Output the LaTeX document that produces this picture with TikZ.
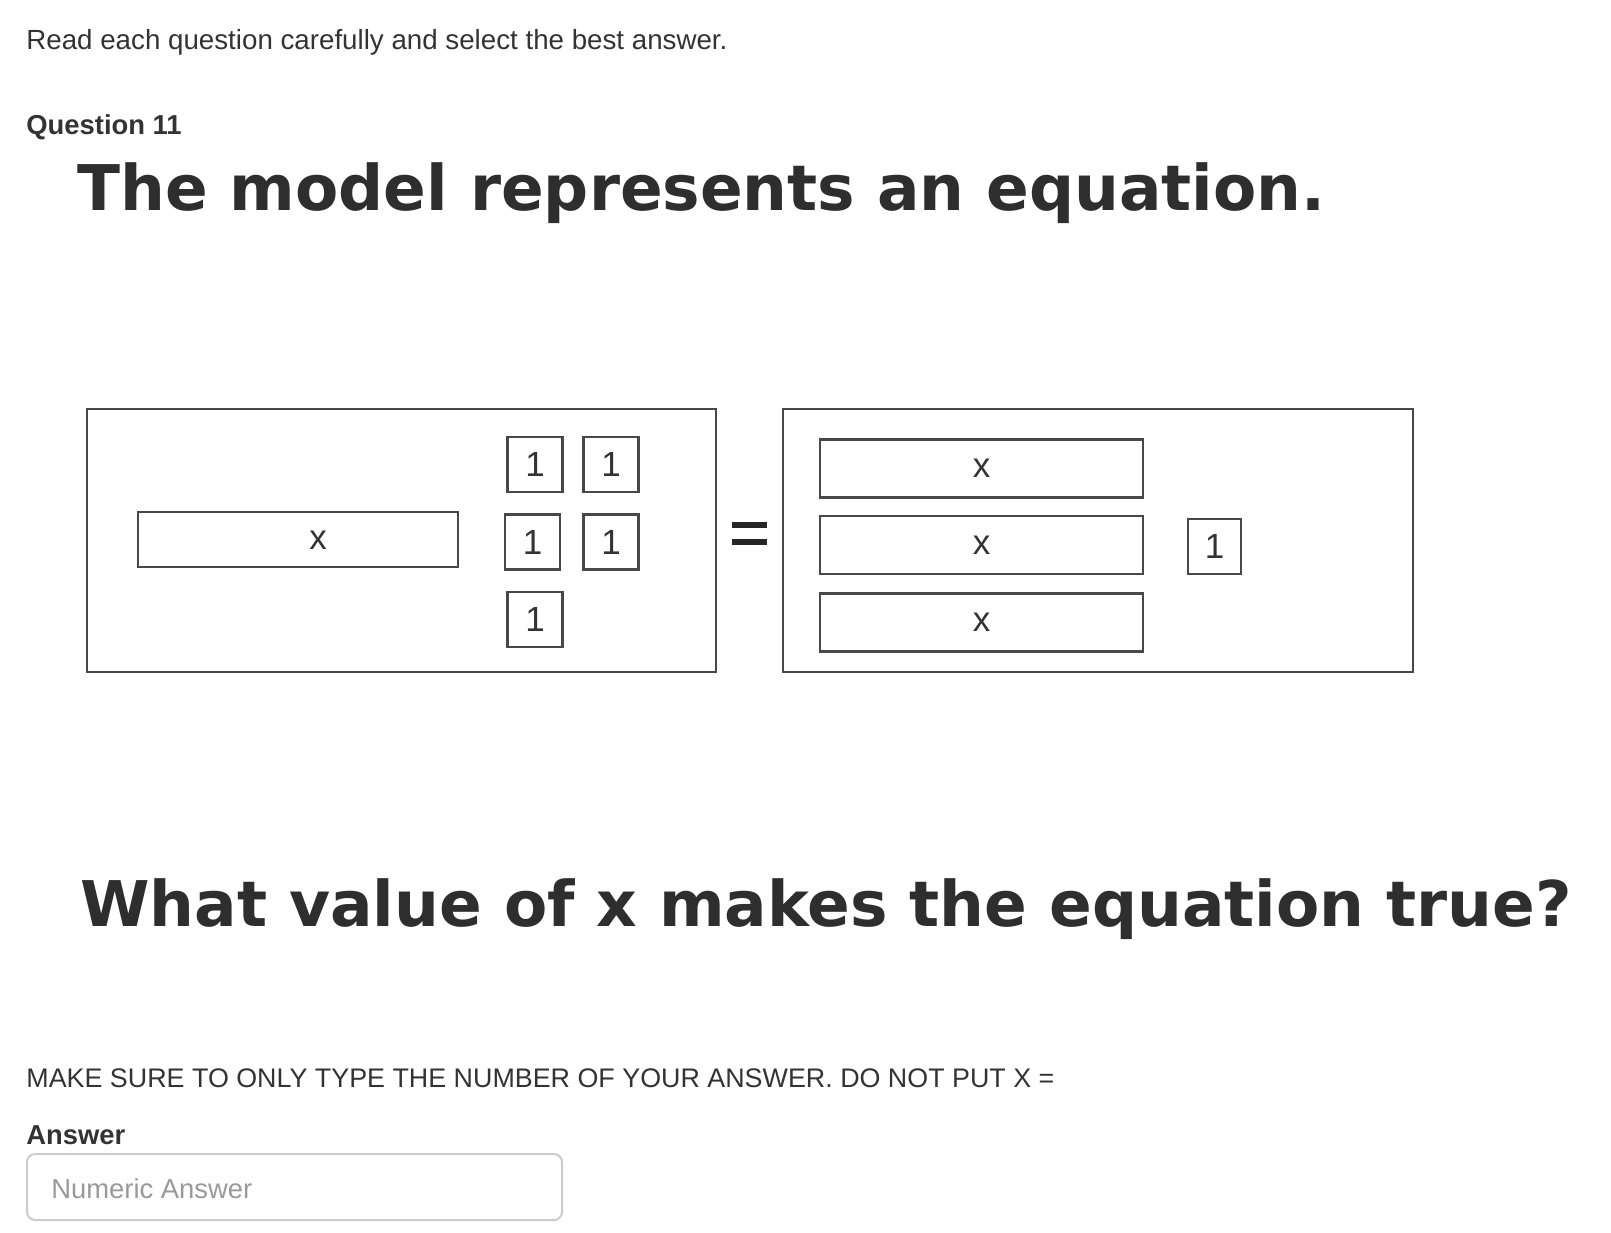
\documentclass[tikz,border=0pt]{standalone}
\usepackage{fontspec}
\setmainfont{Liberation Sans}
\newfontfamily\headfont{DejaVu Sans}

\definecolor{ink}{HTML}{333333}
\definecolor{head}{HTML}{2E2E2E}
\definecolor{frame}{HTML}{484848}
\definecolor{fieldline}{HTML}{CCCCCC}
\definecolor{hint}{HTML}{999999}

\begin{document}
\begin{tikzpicture}[x=0.5pt,y=-0.5pt,
  txt/.style={anchor=base west,inner sep=0pt,text=ink,font=\fontsize{13.7}{16}\selectfont},
  txtb/.style={anchor=base west,inner sep=0pt,text=ink,font=\bfseries\fontsize{13.7}{16}\selectfont},
  big/.style={anchor=base west,inner sep=0pt,text=head,font=\headfont\bfseries\fontsize{31.5}{36}\selectfont},
  panel/.style={draw=frame,line width=1.3pt},
  xbar/.style={draw=frame,line width=1.3pt,minimum width=161.5pt,minimum height=29pt,inner sep=0pt,
    text=ink,font=\fontsize{17.5}{20}\selectfont},
  unit/.style={draw=frame,line width=1.3pt,minimum width=27.5pt,minimum height=27.5pt,inner sep=0pt,
    text=ink,font=\fontsize{17.5}{20}\selectfont}]
\useasboundingbox (0,0) rectangle (1611,1232);

% header
\node[txt,font=\fontsize{13.86}{16}\selectfont] (intro) at (26,49.5) {Read each question carefully and select the best answer.};
\node[txtb] (qnum)  at (26,134.6) {Question 11};
\node[big]  (title) at (77,210)   {The model represents an equation.};

% left side of the model
\draw[panel] (87,409) rectangle (716,672);
\node[xbar,minimum width=160pt,minimum height=27.5pt] (lx) at (298,539.5) {};
\node[inner sep=0pt,text=ink,font=\fontsize{17.5}{20}\selectfont] (lxl) at (318,540) {x};
\foreach \n/\x/\y in {a/535/464.5, b/611/464.5, c/532.5/542, d/611/542, e/535/619.5}
  \node[unit] (u\n) at (\x,\y) {1};

% equals sign
\draw[line width=3.4pt,black!85] (732,525) -- (767,525) (732,542) -- (767,542);

% right side of the model
\draw[panel] (783,409) rectangle (1413,672);
\foreach \n/\y in {a/468.5, b/545, c/622.5}
  \node[xbar] (rx\n) at (981.5,\y) {x};
\node[unit,minimum width=26.5pt] (ru) at (1214.5,546.5) {1};

% question and answer field
\node[big]  (ask)    at (80,926)    {What value of x makes the equation true?};
\node[txt,font=\fontsize{13.43}{16}\selectfont] (note) at (26,1087) {MAKE SURE TO ONLY TYPE THE NUMBER OF YOUR ANSWER. DO NOT PUT X =};
\node[txtb] (anslbl) at (26,1144.5) {Answer};
\draw[fieldline,line width=1pt,rounded corners=4pt] (27,1154) rectangle (562,1220);
\node[txt,text=hint] (hint) at (51,1198) {Numeric Answer};
\end{tikzpicture}
\end{document}
